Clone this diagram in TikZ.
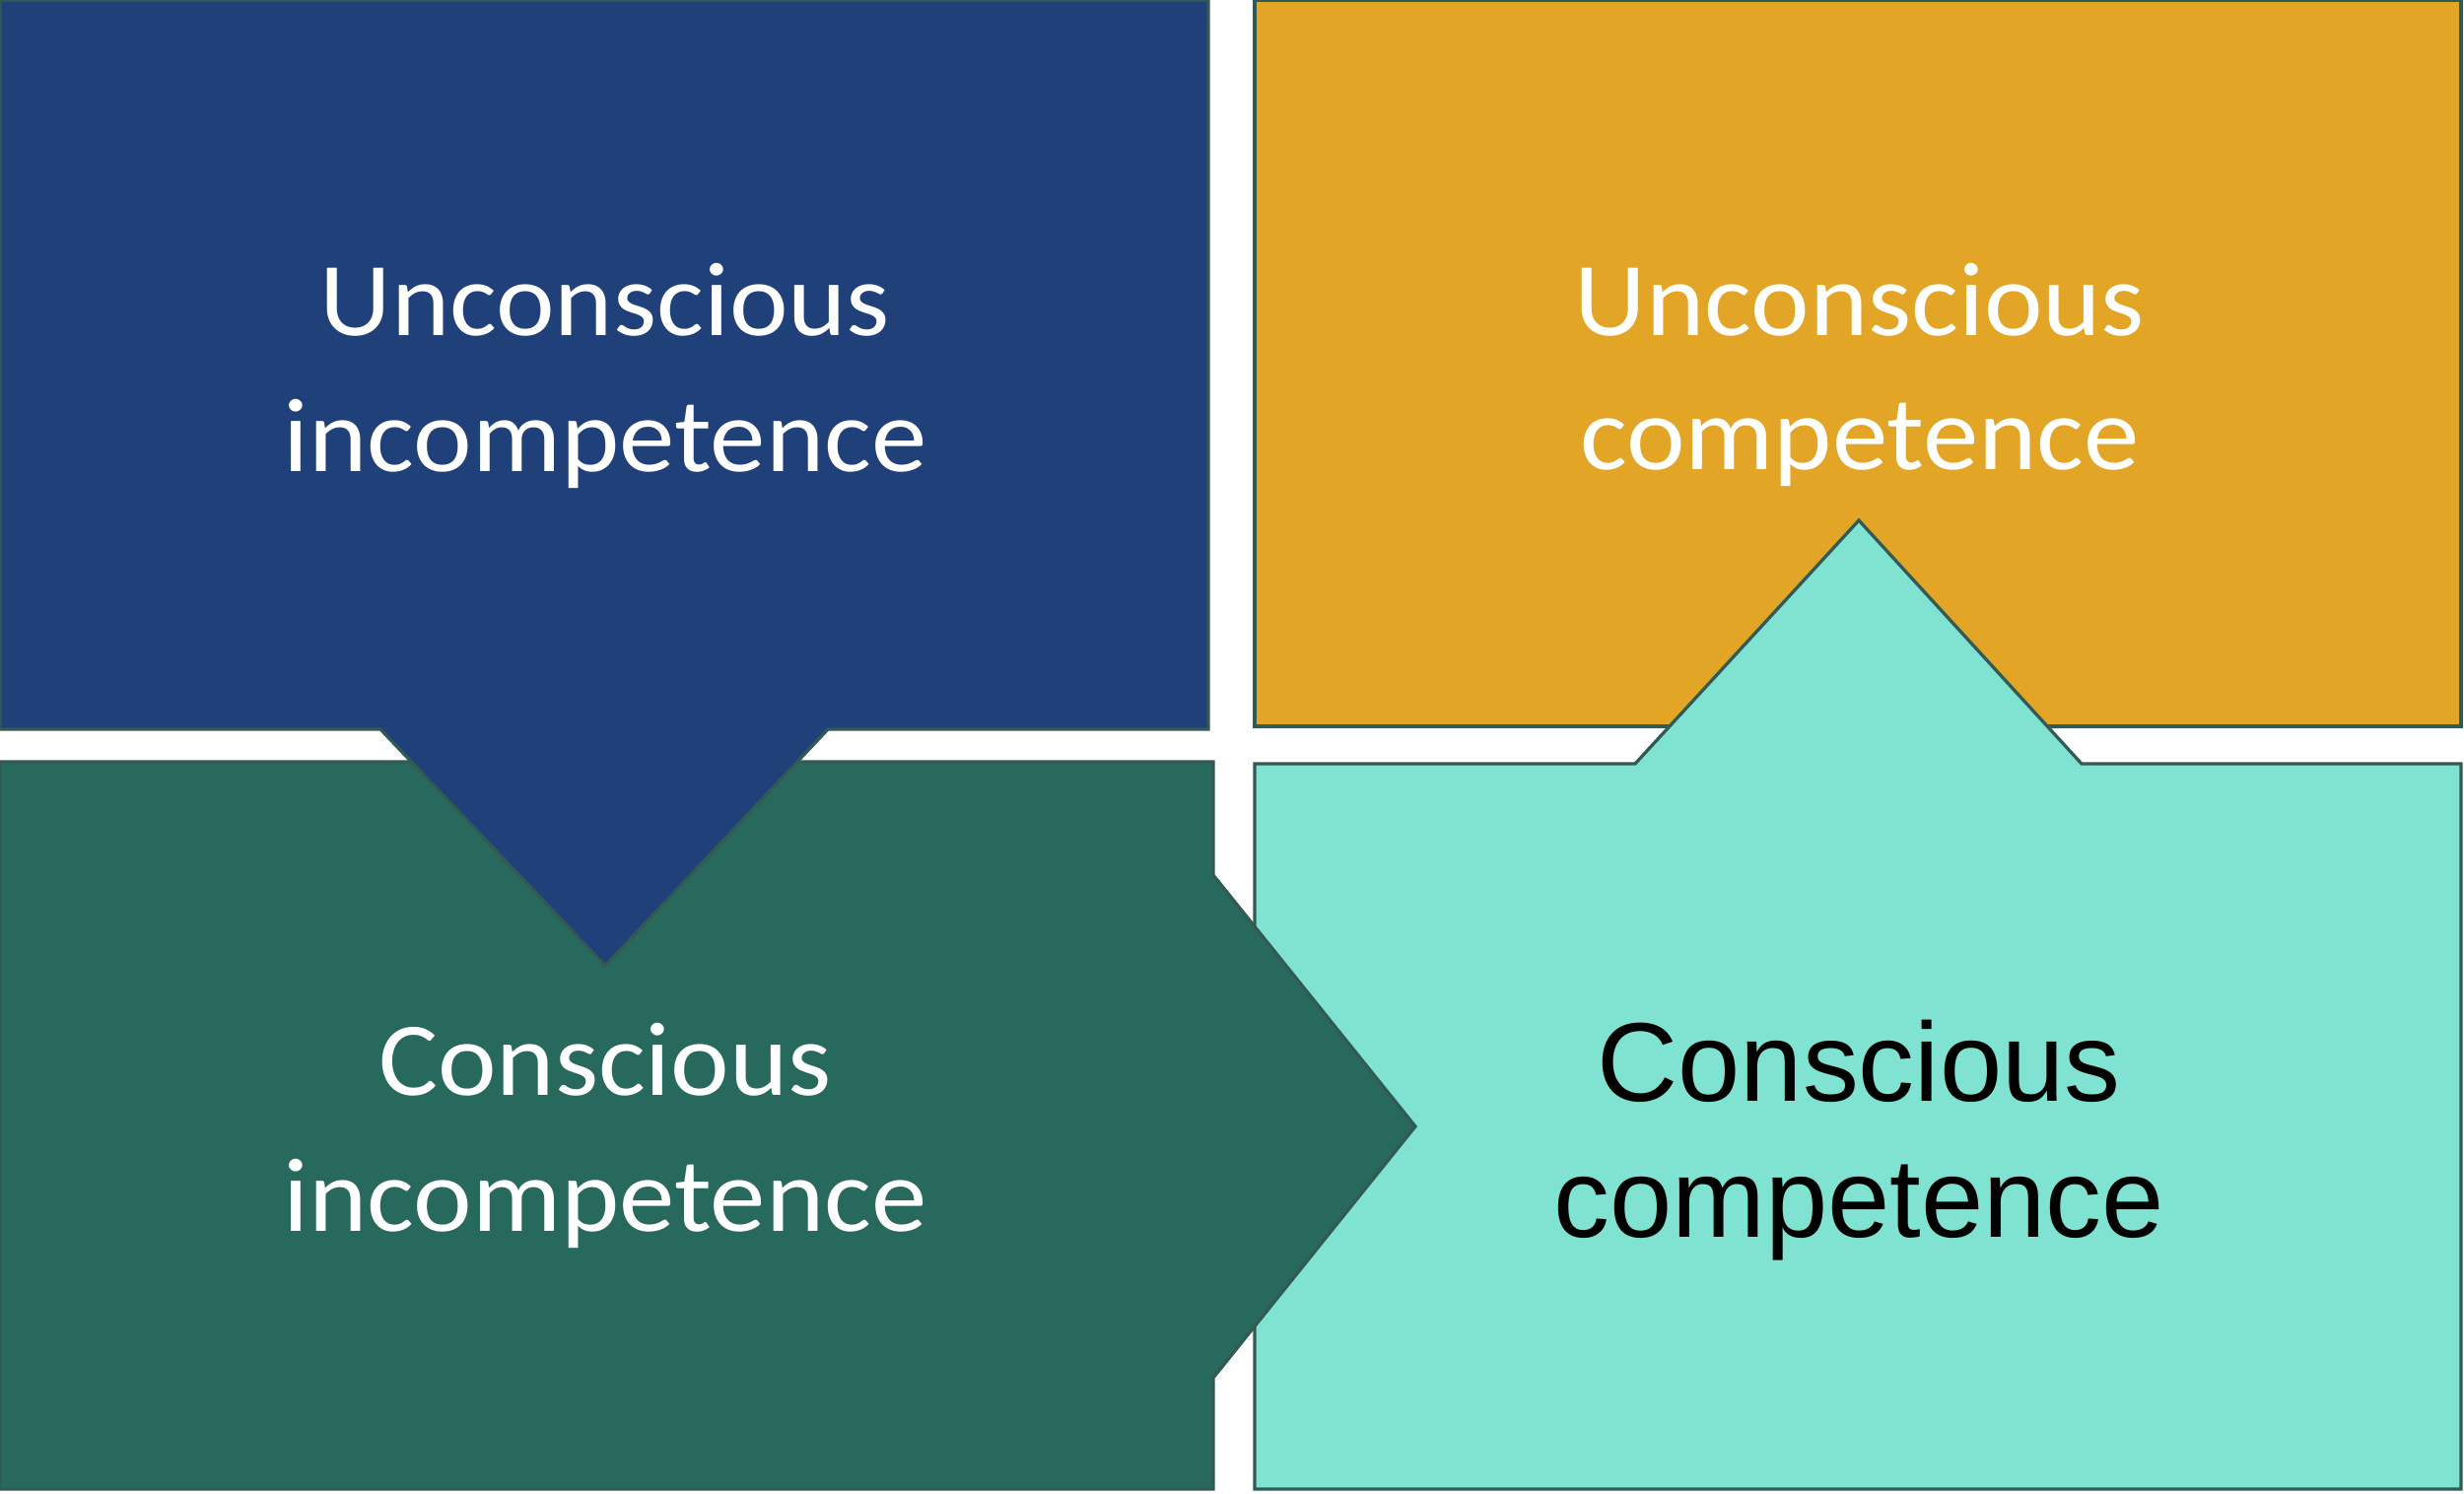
\documentclass[tikz,border=0pt]{standalone}
\usepackage{fontspec}
\newfontfamily\calib[FakeStretch=1.06]{Carlito}
\newfontfamily\arialf{Liberation Sans}
\definecolor{cblue}{HTML}{20407A}
\definecolor{cgreen}{HTML}{28695E}
\definecolor{corange}{HTML}{E2A525}
\definecolor{cteal}{HTML}{80E2D0}
\definecolor{cline}{HTML}{325A55}
\begin{document}
\begin{tikzpicture}[x=0.4pt,y=-0.4pt,
  panel/.style={draw=cline,line width=1.3pt,line join=miter},
  wtext/.style={anchor=base,text=white,inner sep=0pt,font=\calib\fontsize{42.6}{55}\selectfont},
  btext/.style={anchor=base,text=black,inner sep=0pt,font=\arialf\fontsize{45.5}{55}\selectfont}]
\useasboundingbox (0,0) rectangle (2500,1515);
% orange
\fill[white] (0,0) rectangle (2500,1515);
\draw[panel,fill=corange] (1273,0) rectangle (2497,737);
% teal
\draw[panel,fill=cteal] (1273,775) -- (1659,775) -- (1886,528) -- (2112,775) -- (2497,775) -- (2497,1511) -- (1273,1511) -- cycle;
% green
\draw[panel,fill=cgreen] (0,773) -- (1231,773) -- (1231,888) -- (1436,1143) -- (1231,1398) -- (1231,1511) -- (0,1511) -- cycle;
% blue
\draw[panel,fill=cblue] (0,0) -- (1226,0) -- (1226,740) -- (840,740) -- (614,980) -- (386,740) -- (0,740) -- cycle;
% texts
\node[wtext] (ui1) at (614,340) {Unconscious};
\node[wtext] (ui2) at (614,478) {incompetence};
\node[wtext] (uc1) at (1887,340) {Unconscious};
\node[wtext] (uc2) at (1887,476) {competence};
\node[wtext] (ci1) at (614,1111) {Conscious};
\node[wtext] (ci2) at (614,1249) {incompetence};
\node[btext] (cc1) at (1886,1117) {Conscious};
\node[btext] (cc2) at (1886,1255) {competence};
\end{tikzpicture}
\end{document}
